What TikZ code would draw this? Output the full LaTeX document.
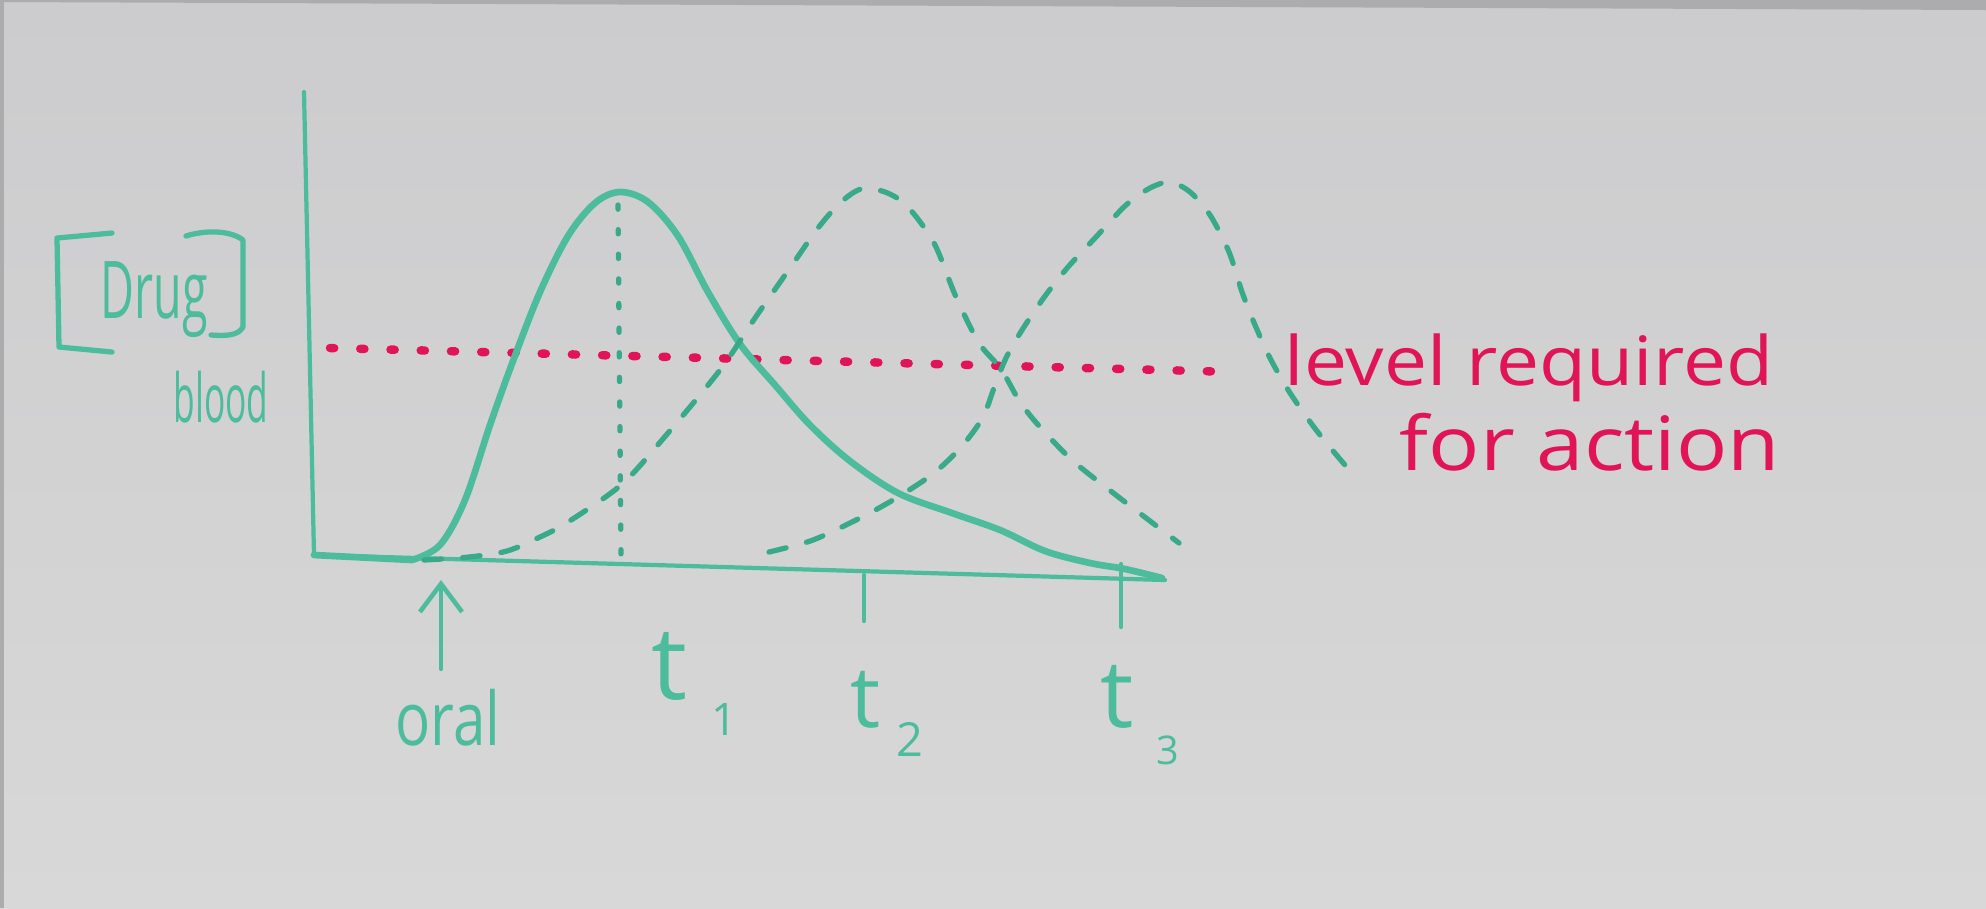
\documentclass[tikz,border=0pt]{standalone}
\usepackage{fontspec}
\setmainfont{Open Sans}
\usetikzlibrary{arrows.meta}
\definecolor{marker}{RGB}{76,188,156}
\definecolor{markerdk}{RGB}{56,170,138}
\definecolor{redmk}{RGB}{224,20,86}
\definecolor{boardtop}{RGB}{204,204,206}
\definecolor{boardbot}{RGB}{216,216,216}
\definecolor{boardedge}{RGB}{172,172,175}
\begin{document}
\begin{tikzpicture}[x=0.01cm,y=-0.01cm,
  ink/.style={draw=marker, line cap=round, line join=round},
  axisline/.style={ink, line width=1.2pt},
  bracketline/.style={ink, line width=1.5pt},
  solidcurve/.style={ink, line width=1.9pt},
  dashcurve/.style={draw=markerdk, line cap=round, line width=1.5pt, dash pattern=on 5pt off 6pt},
  dotline/.style={draw=markerdk, line cap=round, line width=1.5pt, dash pattern=on 1.2pt off 5.8pt},
  reddots/.style={draw=redmk, line width=2.4pt, line cap=round, dash pattern=on 1.2pt off 7.4pt},
  tealtext/.style={text=marker, inner sep=0pt, outer sep=0pt},
  redtext/.style={text=redmk, inner sep=0pt, outer sep=0pt},
]
\useasboundingbox (0,0) rectangle (1986,908);
\shade[top color=boardtop, bottom color=boardbot] (0,0) rectangle (1986,908);
\fill[boardedge] (0,0) -- (1986,0) -- (1986,10) -- (0,2) -- cycle;
\fill[boardedge] (0,0) rectangle (4,908);

% axes
\coordinate (ytop) at (304,92);
\coordinate (origin) at (314,555);
\coordinate (xend) at (1165,580);
\draw[axisline] (ytop) -- (origin) -- (xend);

% red dotted level line
\coordinate (redL) at (330,348);
\coordinate (redR) at (1236,372);
\draw[reddots] (redL) -- (redR);

% main solid curve
\draw[solidcurve] (origin) -- (412,560) plot[smooth, tension=0.55] coordinates {
  (412,560) (440,545) (465,500) (490,425) (513,361) (540,292) (568,236)
  (595,203) (620,192) (648,202) (678,236) (708,292) (740,344) (775,385)
  (810,425) (850,461) (898,493) (952,513) (1000,530) (1045,551)
  (1090,563) (1125,569) (1162,578)};

% dotted vertical at peak
\coordinate (pk1) at (618,205);
\coordinate (pk1b) at (621,557);
\draw[dotline] (pk1) -- (pk1b);

% second (dashed) curve
\draw[dashcurve] plot[smooth, tension=0.5] coordinates {
  (424,560) (469,557) (507,551) (540,537) (568,522) (621,485) (662,440)
  (720,370) (755,318) (790,268) (818,228) (840,203) (861,189) (885,192)
  (907,206) (934,243) (956,297) (979,343) (1001,369) (1020,402) (1040,427)
  (1072,460) (1112,492) (1179,543)};

% third (dashed) curve
\draw[dashcurve] plot[smooth, tension=0.5] coordinates {
  (769,552) (813,540) (862,517) (898,497) (934,473) (962,446) (983,417)
  (995,385) (1006,358) (1022,330) (1045,296) (1068,267) (1095,238)
  (1126,205) (1150,188) (1170,182) (1190,192) (1210,215) (1229,252)
  (1242,292) (1255,325) (1271,360) (1292,396) (1320,435) (1356,478)};

% ticks
\coordinate (tk2a) at (864,575);
\coordinate (tk2b) at (864,621);
\coordinate (tk3a) at (1121,564);
\coordinate (tk3b) at (1121,627);
\draw[axisline] (tk2a) -- (tk2b);
\draw[axisline] (tk3a) -- (tk3b);

% oral arrow
\coordinate (oralTip) at (441,580);
\coordinate (oralBase) at (441,669);
\draw[axisline, -{Straight Barb[length=8pt, width=12pt, line width=1.3pt]}] (oralBase) -- (oralTip);

% concentration brackets
\draw[bracketline] (112,233) -- (57,238) -- (59,347) -- (112,352);
\draw[bracketline] (186,236) .. controls (205,230) and (230,230) .. (243,240) -- (243,327) .. controls (238,336) and (225,336) .. (211,335);

% labels
\node[tealtext] (drug) at (154,300) {\resizebox*{1.07cm}{0.76cm}{Drug}};
\node[tealtext] (blood) at (221,397) {\resizebox*{0.95cm}{0.52cm}{blood}};
\node[tealtext] (oral) at (448,718) {\resizebox*{1.05cm}{0.57cm}{oral}};
\node[tealtext] (t1) at (669,666) {\resizebox*{!}{0.68cm}{t}};
\node[tealtext] (s1) at (724,719) {\resizebox*{!}{0.32cm}{1}};
\node[tealtext] (t2) at (866,700) {\resizebox*{!}{0.57cm}{t}};
\node[tealtext] (s2) at (910,739) {\resizebox*{!}{0.34cm}{2}};
\node[tealtext] (t3) at (1117,697) {\resizebox*{!}{0.63cm}{t}};
\node[tealtext] (s3) at (1168,750) {\resizebox*{!}{0.29cm}{3}};
\node[redtext] (lvl) at (1529,368) {\resizebox*{4.88cm}{0.68cm}{level required}};
\node[redtext] (act) at (1590,442) {\resizebox*{3.80cm}{0.58cm}{for action}};
\end{tikzpicture}
\end{document}
